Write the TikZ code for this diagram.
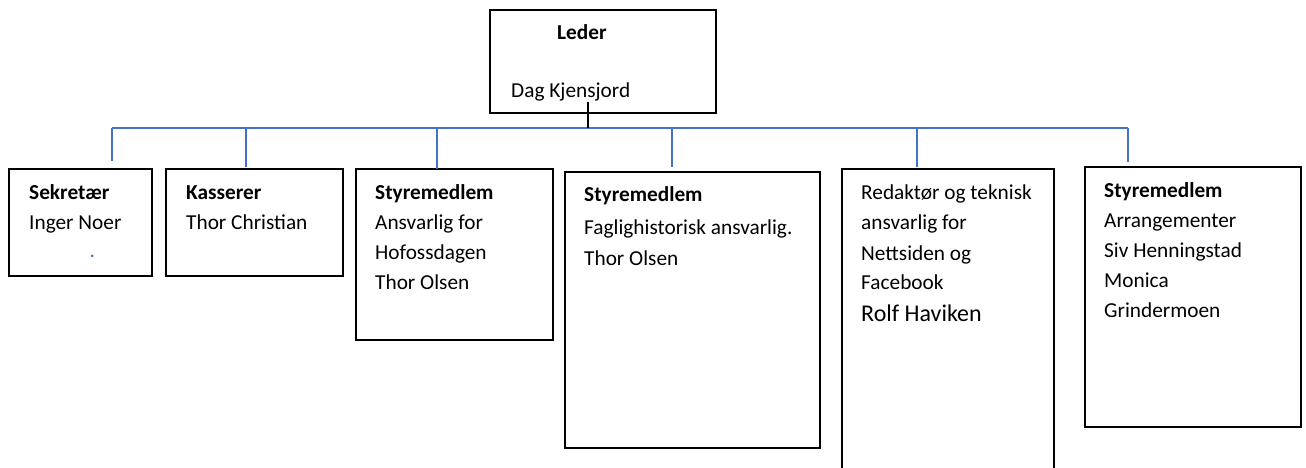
\documentclass[tikz,border=0pt]{standalone}
\usepackage{fontspec}
\setmainfont{Carlito}
\definecolor{bus}{HTML}{4472C4}
\tikzset{
  box/.style={draw=black, line width=2pt, anchor=north west, inner sep=0pt},
  txt/.style={anchor=base west, inner sep=0pt, font=\fontsize{21.3}{25}\selectfont},
  hd/.style={anchor=base west, inner sep=0pt, font=\fontsize{21.3}{25}\selectfont\bfseries},
  big/.style={anchor=base west, inner sep=0pt, font=\fontsize{24}{28}\selectfont},
  wire/.style={draw=bus, line width=1.6pt},
  stem/.style={draw=black, line width=1.6pt},
}
\begin{document}
\begin{tikzpicture}[x=1pt,y=-1pt]
\useasboundingbox (0,0) rectangle (1306,468);
% boxes
\node[box, minimum width=226pt, minimum height=103pt] (leder) at (489,9) {};
\node[box, minimum width=143pt, minimum height=107pt] (sek) at (8,168) {};
\node[box, minimum width=177pt, minimum height=107pt] (kas) at (165,168) {};
\node[box, minimum width=197pt, minimum height=171pt] (st1) at (355,168) {};
\node[box, minimum width=255pt, minimum height=276pt] (st2) at (564,171) {};
\node[box, minimum width=212pt, minimum height=320pt] (red) at (841,168) {};
\node[box, minimum width=216pt, minimum height=260pt] (arr) at (1084,166) {};
% bus
\coordinate (s0) at (588,102);
\coordinate (bc) at (588,128);
\coordinate (b1) at (112,128);
\coordinate (b2) at (246,128);
\coordinate (b3) at (437,128);
\coordinate (b4) at (672,128);
\coordinate (b5) at (917,128);
\coordinate (b6) at (1128,128);
\coordinate (d1) at (112,161);
\coordinate (d2) at (246,167);
\coordinate (d3) at (437,169);
\coordinate (d4) at (672,167);
\coordinate (d5) at (917,167);
\coordinate (d6) at (1128,162);
\draw[wire] (b1) -- (b6);
\draw[wire] (b1) -- (d1);
\draw[wire] (b2) -- (d2);
\draw[wire] (b3) -- (d3);
\draw[wire] (b4) -- (d4);
\draw[wire] (b5) -- (d5);
\draw[wire] (b6) -- (d6);
\draw[stem] (s0) -- (bc);
% texts
\node[hd] (t0a) at (557,40) {Leder};
\node[txt] (t0b) at (511,98) {Dag Kjensjord};
\node[hd] (t1a) at (29,199) {Sekretær};
\node[txt] (t1b) at (29,229) {Inger Noer};
\node[anchor=base west, inner sep=0pt, text=bus, font=\fontsize{21.3}{25}\selectfont] (t1c) at (89.5,257.5) {.};
\node[hd] (t2a) at (186,199) {Kasserer};
\node[txt] (t2b) at (186,229) {Thor Christian};
\node[hd] (t3a) at (375,199) {Styremedlem};
\node[txt] (t3b) at (375,229) {Ansvarlig for};
\node[txt] (t3c) at (375,259) {Hofossdagen};
\node[txt] (t3d) at (375,289) {Thor Olsen};
\node[hd] (t4a) at (584,201) {Styremedlem};
\node[txt] (t4b) at (584,234) {Faglighistorisk ansvarlig.};
\node[txt] (t4c) at (584,265) {Thor Olsen};
\node[txt] (t5a) at (861,199) {Redaktør og teknisk};
\node[txt] (t5b) at (861,229) {ansvarlig for};
\node[txt] (t5c) at (861,260) {Nettsiden og};
\node[txt] (t5d) at (861,289) {Facebook};
\node[big] (t5e) at (861,321) {Rolf Haviken};
\node[hd] (t6a) at (1104,197) {Styremedlem};
\node[txt] (t6b) at (1104,227) {Arrangementer};
\node[txt] (t6c) at (1104,257) {Siv Henningstad};
\node[txt] (t6d) at (1104,287) {Monica};
\node[txt] (t6e) at (1104,317) {Grindermoen};
\end{tikzpicture}
\end{document}
